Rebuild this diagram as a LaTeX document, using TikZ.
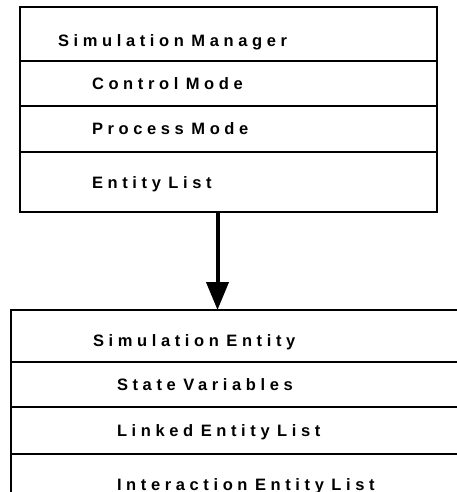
\documentclass[tikz,border=0pt]{standalone}
\usepackage{fontspec}
\setmainfont{Liberation Sans}[LetterSpace=28, BoldFont={Liberation Sans Bold}]
\usetikzlibrary{positioning,arrows.meta}
\newcommand\rowfont{\bfseries\fontsize{16.5}{18}\selectfont}

\begin{document}
\begin{tikzpicture}[
    x=1pt, y=1pt,
    node distance=0pt,
    rowbox/.style={rectangle, draw, line width=1.6pt, outer sep=0pt, inner ysep=0pt, align=left,
        font=\rowfont, text height=12pt, text depth=0pt,
        execute at begin node={\spaceskip=7.5pt\relax}},
    row/.style 2 args={rowbox, inner xsep=#1, text width=#2},
    conn/.style={-{Triangle[width=22pt,length=28pt]}, line width=4pt}
]
    \useasboundingbox (0,0) rectangle (456,-492);

    % manager
    \node[row={38pt}{341pt}, anchor=north west, minimum height=54pt, text height=26pt] (sm) at (20,-7) {Simulation Manager};
    \node[row={72pt}{273pt}, below=of sm, minimum height=45pt] (cm) {Control Mode};
    \node[row={72pt}{273pt}, below=of cm, minimum height=46pt] (pm) {Process Mode};
    \node[row={72pt}{273pt}, below=of pm, minimum height=60pt] (el) {Entity List};

    % entity (runs past the right and lower edge)
    \node[row={82pt}{336pt}, anchor=north west, minimum height=52pt, text height=20pt] (se) at (11,-310) {Simulation Entity};
    \node[row={106pt}{288pt}, below=of se, minimum height=45pt] (sv) {State Variables};
    \node[row={106pt}{288pt}, below=of sv, minimum height=47pt] (le) {Linked Entity List};
    \node[row={106pt}{288pt}, below=of le, minimum height=60pt] (ie) {Interaction Entity List};

    \draw[conn] ([xshift=-11pt]el.south) -- ([xshift=-11pt]el.south |- se.north);
\end{tikzpicture}
\end{document}
